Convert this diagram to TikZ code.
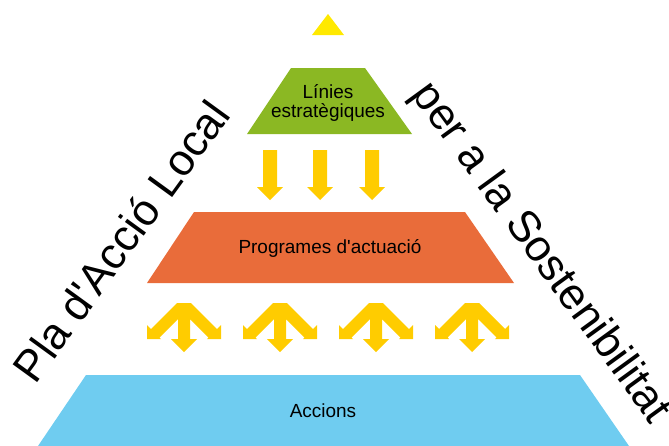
\documentclass[tikz,border=0pt]{standalone}
\usepackage{fontspec}
\setmainfont{Liberation Sans}
\definecolor{topYellow}{HTML}{FFE900}
\definecolor{arrowYellow}{HTML}{FFCC00}
\definecolor{lineGreen}{HTML}{8BB823}
\definecolor{progOrange}{HTML}{E96C3A}
\definecolor{actBlue}{HTML}{6FCCF0}
\newcommand{\setup}{
    \coordinate (t0) at (328,14);
    \coordinate (t1) at (344,35);
    \coordinate (t2) at (312,35);

    \coordinate (g0) at (291,68);
    \coordinate (g1) at (365,68);
    \coordinate (g2) at (412,134);
    \coordinate (g3) at (247,134);

    \coordinate (o0) at (194,212);
    \coordinate (o1) at (465,212);
    \coordinate (o2) at (514,283);
    \coordinate (o3) at (147,283);

    \coordinate (b0) at (86,375);
    \coordinate (b1) at (580,375);
    \coordinate (b2) at (629,446);
    \coordinate (b3) at (38,446);
}
\newcommand{\downArrow}[1]{
  \fill[arrowYellow] (#1-7,150) -- (#1+7,150) -- (#1+7,187) -- (#1+13,187)
    -- (#1,200) -- (#1-13,187) -- (#1-7,187) -- cycle;
}
\newcommand{\tripleArrow}[1]{
  \begin{scope}[shift={(#1,303)}]
    \fill[arrowYellow] (-7,0) -- (-33,26) -- (-37,22) -- (-37,36) -- (-23,36)
      -- (-24.5,34.5) -- (-6,16) -- (-6,36) -- (-13,36) -- (0,49)
      -- (13,36) -- (6,36) -- (6,16) -- (24.5,34.5) -- (23,36)
      -- (37,36) -- (37,22) -- (33,26) -- (7,0) -- cycle;
  \end{scope}
}
\tikzset{
  level/.style={font=\fontsize{16.2}{16.2}\selectfont, align=center},
  side/.style={font=\fontsize{37.6}{37.6}\selectfont, inner sep=0pt}
}

\begin{document}
\begin{tikzpicture}[x=0.03cm,y=-0.03cm]
          \useasboundingbox (0,0) rectangle (669,445);
          \setup;

          \fill[topYellow] (t0) -- (t1) -- (t2) -- cycle;
          \fill[lineGreen] (g0) -- (g1) -- (g2) -- (g3) -- cycle;
          \fill[progOrange] (o0) -- (o1) -- (o2) -- (o3) -- cycle;
          \fill[actBlue] (b0) -- (b1) -- (b2) -- (b3) -- cycle;

          % arrows between the levels
          \foreach \ax in {270,320,372} \downArrow{\ax};
          \foreach \ax in {184,280,376,472} \tripleArrow{\ax};

          \node[level] (linies) at (328,103) {Línies\\estratègiques};
          \node[level] (programes) at (330,248) {Programes d\textquotesingle actuació};
          \node[level] (accions) at (323,411) {Accions};

          \node[side, rotate=54] (pla) at (121,241) {Pla d\textquotesingle Acció Local};
          \node[side, rotate=-54] (sostenibilitat) at (540,253) {per a la Sostenibilitat};
        \end{tikzpicture}
\end{document}
